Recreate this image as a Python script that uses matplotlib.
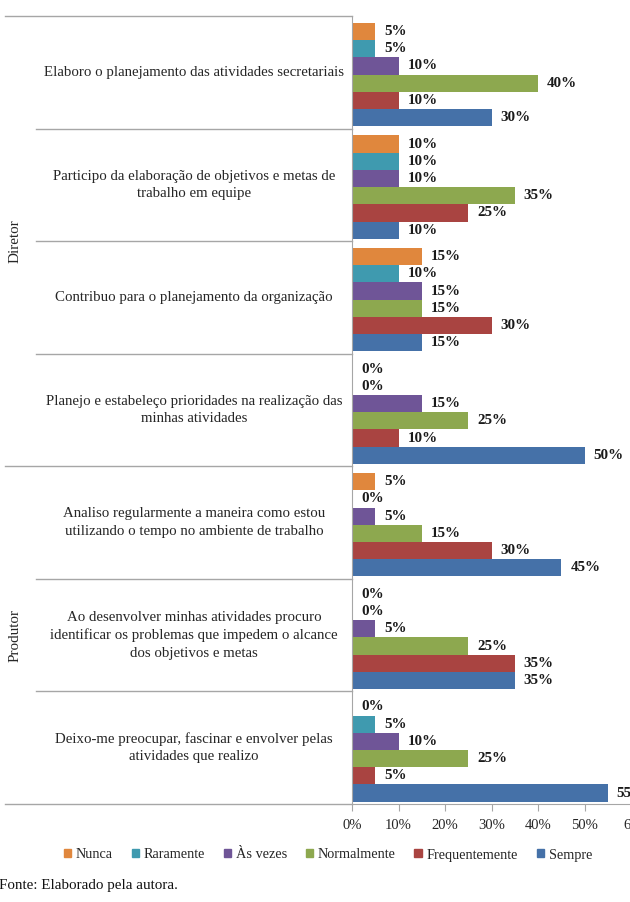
import matplotlib
matplotlib.use("Agg")
import matplotlib.pyplot as plt
import matplotlib.transforms as mtransforms
from matplotlib.patches import Patch
import numpy as np

categories = [
    "Elaboro o planejamento das atividades secretariais",
    "Participo da elaboração de objetivos e metas de\ntrabalho em equipe",
    "Contribuo para o planejamento da organização",
    "Planejo e estabeleço prioridades na realização das\nminhas atividades",
    "Analiso regularmente a maneira como estou\nutilizando o tempo no ambiente de trabalho",
    "Ao desenvolver minhas atividades procuro\nidentificar os problemas que impedem o alcance\ndos objetivos e metas",
    "Deixo-me preocupar, fascinar e envolver pelas\natividades que realizo",
]
groups = ["Diretor", "Produtor"]
group_sizes = [4, 3]
series = ["Nunca", "Raramente", "Às vezes", "Normalmente", "Frequentemente", "Sempre"]
nunca = [5, 10, 15, 0, 5, 0, 0]
raramente = [5, 10, 10, 0, 0, 0, 5]
as_vezes = [10, 10, 15, 15, 5, 5, 10]
normalmente = [40, 35, 15, 25, 15, 25, 25]
frequentemente = [10, 25, 30, 10, 30, 35, 5]
sempre = [30, 10, 15, 50, 45, 35, 55]
xticks = [0, 10, 20, 30, 40, 50, 60]
xticklabels = ["0%", "10%", "20%", "30%", "40%", "50%", "60"]

values = [nunca, raramente, as_vezes, normalmente, frequentemente, sempre]
colors = ["#E0873D", "#3F9AAF", "#6F5597", "#8DA84F", "#A94441", "#4571A8"]

plt.rcParams["font.family"] = ["Liberation Serif", "DejaVu Serif"]

W, H = 630, 902
fig = plt.figure(figsize=(W / 100, H / 100), dpi=100)
ax_left, ax_right, ax_top, ax_bot = 352, 631, 16, 804
ax = fig.add_axes([ax_left / W, 1 - ax_bot / H, (ax_right - ax_left) / W, (ax_bot - ax_top) / H])

n = len(categories)
h = 0.153
centers = np.arange(n) + 0.52
for j, (name, vals, c) in enumerate(zip(series, values, colors)):
    y = centers + (j - 2.5) * h
    cont = ax.barh(y, vals, height=h, color=c, label=name, linewidth=0)
    ax.bar_label(cont, labels=[f"{v}%" for v in vals], padding=6.5,
                 fontsize=10.8, fontweight="bold", color="#1a1a1a", clip_on=False)

ax.set_xlim(0, 60)
ax.set_ylim(n, 0)
ax.set_xticks(xticks)
ax.set_xticklabels(xticklabels, fontsize=10.5)
ax.set_yticks([])
for s in ["top", "right"]:
    ax.spines[s].set_visible(False)
grey = "#A6A6A6"
ax.spines["left"].set_color(grey)
ax.spines["bottom"].set_color(grey)
ax.tick_params(axis="x", direction="out", length=5, color=grey, pad=6, labelcolor="#262626")

# multi-level category axis
trans = mtransforms.blended_transform_factory(ax.transAxes, ax.transData)
px = lambda x: (x - ax_left) / (ax_right - ax_left)
boundaries = list(range(n + 1))
group_bounds = [0] + list(np.cumsum(group_sizes))
for b in boundaries:
    x0 = px(5) if b in group_bounds else px(36)
    ax.plot([x0, 0], [b, b], color=grey, lw=1, transform=trans, clip_on=False)

for i, cat in enumerate(categories):
    ax.text(px(194), i + 0.5, cat, transform=trans, ha="center", va="center",
            fontsize=10.7, color="#262626", multialignment="center", linespacing=1.45)

for g, (a, b) in zip(groups, zip(group_bounds[:-1], group_bounds[1:])):
    ax.text(px(15), (a + b) / 2, g, transform=trans, ha="center", va="center",
            rotation=90, fontsize=10.9, color="#262626")

handles = [Patch(color=c, label=s) for s, c in zip(series, colors)]
fig.legend(handles=handles, loc="center", bbox_to_anchor=(328 / W, 1 - 855 / H), ncol=6,
           frameon=False, fontsize=10.3, handlelength=0.5, handleheight=0.5,
           handletextpad=0.35, columnspacing=1.3, borderaxespad=0, labelcolor="#262626")

fig.text(-1 / W, 1 - 885 / H, "Fonte: Elaborado pela autora.", ha="left", va="center",
         fontsize=10.8, color="#111111")

fig.savefig("out.png", dpi=100)
